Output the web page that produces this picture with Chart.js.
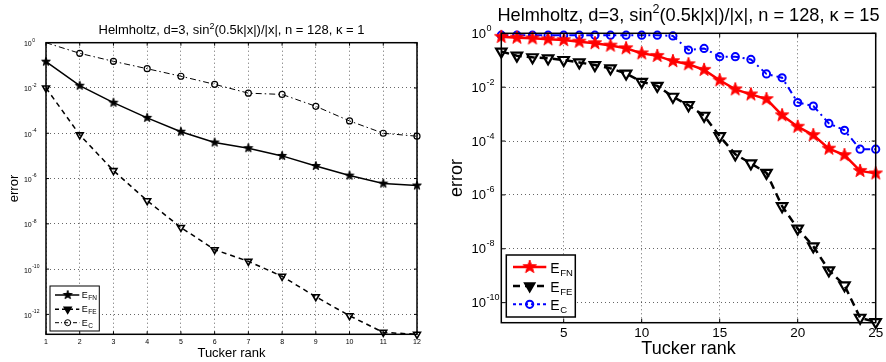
<!DOCTYPE html>
<html>
<head>
<meta charset="utf-8">
<script src="https://cdn.jsdelivr.net/npm/chart.js@4.4.0/dist/chart.umd.min.js"></script>
<style>
  html, body { margin: 0; padding: 0; background: #fff; }
  #wrap { position: relative; width: 886px; height: 362px; }
  canvas { position: absolute; top: 0; }
</style>
</head>
<body>
<div id="wrap">
  <canvas id="leftChart" width="443" height="362" style="left:0"></canvas>
  <canvas id="rightChart" width="443" height="362" style="left:443px"></canvas>
</div>
<script>
// left panel, kappa = 1
const ranks1 = [1, 2, 3, 4, 5, 6, 7, 8, 9, 10, 11, 12];
const efn1 = [1.45e-1, 1.26e-2, 2.24e-3, 4.8e-4, 1.17e-4, 3.9e-5, 2.2e-5, 1.0e-5, 3.6e-6, 1.35e-6, 6.0e-7, 4.9e-7];
const efe1 = [1.0e-2, 8.5e-5, 2.24e-6, 1.05e-7, 6.9e-9, 7.2e-10, 2.2e-10, 4.8e-11, 6.0e-12, 8.7e-13, 1.6e-13, 1.32e-13];
const ec1 = [1.0, 3.4e-1, 1.5e-1, 7.1e-2, 3.3e-2, 1.45e-2, 5.9e-3, 5.2e-3, 1.55e-3, 3.5e-4, 1.0e-4, 7.4e-5];
const xTicks1 = [1, 2, 3, 4, 5, 6, 7, 8, 9, 10, 11, 12];
const yTicks1 = [1e0, 1e-2, 1e-4, 1e-6, 1e-8, 1e-10, 1e-12];

// right panel, kappa = 15
const ranks2 = [1, 2, 3, 4, 5, 6, 7, 8, 9, 10, 11, 12, 13, 14, 15, 16, 17, 18, 19, 20, 21, 22, 23, 24, 25];
const efn2 = [0.74, 0.69, 0.65, 0.60, 0.56, 0.49, 0.43, 0.35, 0.28, 0.18, 0.145, 0.093, 0.071, 0.044, 0.018,
  8.3e-3, 5.4e-3, 3.6e-3, 9.1e-4, 3.4e-4, 1.66e-4, 5.2e-5, 3.0e-5, 7.8e-6, 6.3e-6];
const efe2 = [0.21, 0.148, 0.129, 0.117, 0.102, 0.083, 0.066, 0.050, 0.032, 0.0158, 0.0112, 4.4e-3, 2.14e-3,
  8.7e-4, 1.51e-4, 3.2e-5, 1.48e-5, 6.6e-6, 3.8e-7, 5.6e-8, 1.23e-8, 1.58e-9, 4.4e-10, 2.75e-11, 1.9e-11];
const ec2 = [0.85, 0.85, 0.85, 0.85, 0.85, 0.85, 0.85, 0.85, 0.85, 0.85, 0.85, 0.8, 0.24, 0.275, 0.135,
  0.135, 0.107, 0.031, 0.0224, 2.7e-3, 2.0e-3, 4.5e-4, 2.5e-4, 5.0e-5, 5.0e-5];
const xTicks2 = [5, 10, 15, 20, 25];
const yTicks2 = [1e0, 1e-2, 1e-4, 1e-6, 1e-8, 1e-10];

const FONT = "'Liberation Sans', Arial, Helvetica, sans-serif";
const gridColor = "rgba(0,0,0,0.6)";

// filled pentagram marker (matlab 'p')
function makeStar(R, color) {
  const c = document.createElement("canvas");
  const s = Math.ceil(2 * R + 2);
  c.width = s;
  c.height = s;
  const g = c.getContext("2d");
  g.beginPath();
  for (let k = 0; k < 10; k++) {
    const a = -Math.PI / 2 + (k * Math.PI) / 5;
    const r = k % 2 === 0 ? R : R * 0.4;
    g.lineTo(s / 2 + r * Math.cos(a), s / 2 + r * Math.sin(a));
  }
  g.closePath();
  g.fillStyle = color;
  g.fill();
  g.strokeStyle = color;
  g.lineWidth = 1;
  g.stroke();
  return c;
}

function toPoints(xs, ys) {
  return xs.map((x, i) => ({ x: x, y: ys[i] }));
}

// box, inward ticks, superscript y labels, title, legend
function makeDecor(cfg) {
  return {
    id: "decor",
    afterDraw(chart) {
      const { ctx, chartArea: a, scales } = chart;
      ctx.save();
      ctx.setLineDash([]);
      ctx.strokeStyle = "#000";
      ctx.lineWidth = 1;
      ctx.beginPath();
      scales.x.ticks.forEach((tk) => {
        const px = scales.x.getPixelForValue(tk.value);
        ctx.moveTo(px, a.bottom);
        ctx.lineTo(px, a.bottom - cfg.tickLen);
        ctx.moveTo(px, a.top);
        ctx.lineTo(px, a.top + cfg.tickLen);
      });
      scales.y.ticks.forEach((tk) => {
        const py = scales.y.getPixelForValue(tk.value);
        ctx.moveTo(a.left, py);
        ctx.lineTo(a.left + cfg.tickLen, py);
        ctx.moveTo(a.right, py);
        ctx.lineTo(a.right - cfg.tickLen, py);
      });
      ctx.stroke();
      ctx.lineWidth = cfg.boxWidth;
      ctx.strokeRect(a.left, a.top, a.right - a.left, a.bottom - a.top);

      // y tick labels: 10 with exponent
      ctx.fillStyle = "#000";
      ctx.textBaseline = "middle";
      scales.y.ticks.forEach((tk) => {
        const py = scales.y.getPixelForValue(tk.value);
        const e = Math.round(Math.log10(tk.value));
        const xb = a.left - cfg.ytick.gap;
        ctx.font = cfg.ytick.size + "px " + FONT;
        ctx.textAlign = "right";
        ctx.fillText("10", xb, py + cfg.ytick.dy);
        ctx.font = cfg.ytick.sup + "px " + FONT;
        ctx.textAlign = "left";
        ctx.fillText(String(e), xb + 0.5, py + cfg.ytick.supDy);
      });

      // title with sin^2
      const t = cfg.title;
      const f1 = t.size + "px " + FONT;
      const f2 = t.sup + "px " + FONT;
      ctx.textBaseline = "alphabetic";
      ctx.textAlign = "left";
      ctx.font = f1;
      const w1 = ctx.measureText(t.pre).width;
      const w3 = ctx.measureText(t.post).width;
      ctx.font = f2;
      const w2 = ctx.measureText("2").width;
      let x = (a.left + a.right) / 2 - (w1 + w2 + w3) / 2;
      ctx.font = f1;
      ctx.fillText(t.pre, x, t.y);
      x += w1;
      ctx.font = f2;
      ctx.fillText("2", x, t.y - t.raise);
      x += w2;
      ctx.font = f1;
      ctx.fillText(t.post, x, t.y);

      // legend
      const L = cfg.legend;
      ctx.fillStyle = "#fff";
      ctx.fillRect(L.x, L.y, L.w, L.h);
      ctx.strokeStyle = "#000";
      ctx.lineWidth = L.border;
      ctx.strokeRect(L.x, L.y, L.w, L.h);
      L.items.forEach((s, i) => {
        const y = L.rows[i];
        ctx.strokeStyle = s.color;
        ctx.lineWidth = s.width;
        ctx.setLineDash(s.dash);
        ctx.beginPath();
        ctx.moveTo(L.x0, y);
        ctx.lineTo(L.x1, y);
        ctx.stroke();
        ctx.setLineDash([]);
        ctx.fillStyle = s.fill;
        ctx.strokeStyle = s.color;
        ctx.lineWidth = s.pbw;
        Chart.helpers.drawPoint(ctx, { pointStyle: s.style, rotation: s.rotation || 0, radius: s.radius, borderWidth: s.pbw }, L.xm, y);
        ctx.fillStyle = "#000";
        ctx.textAlign = "left";
        ctx.textBaseline = "alphabetic";
        ctx.font = L.size + "px " + FONT;
        ctx.fillText("E", L.xt, y + L.dy);
        const we = ctx.measureText("E").width;
        ctx.font = L.sub + "px " + FONT;
        ctx.fillText(s.sub, L.xt + we + 0.5, y + L.subDy);
      });
      ctx.restore();
    },
  };
}

function axes(o) {
  return {
    x: {
      type: "linear",
      min: o.xmin,
      max: o.xmax,
      afterBuildTicks: (ax) => { ax.ticks = o.xTicks.map((v) => ({ value: v })); },
      afterFit: (ax) => {
        ax.height = o.xh;
        ax.paddingLeft = 0;
        ax.paddingRight = 0;
      },
      grid: { color: gridColor, lineWidth: 1, drawTicks: false },
      border: { display: false, dash: [1, 3] },
      ticks: { color: "#000", font: { family: FONT, size: o.tickSize }, padding: o.tickPad, maxRotation: 0, autoSkip: false },
      title: { display: true, text: "Tucker rank", color: "#000", font: { family: FONT, size: o.labelSize }, padding: { top: 0, bottom: o.xTitlePad } },
    },
    y: {
      type: "logarithmic",
      min: o.ymin,
      max: o.ymax,
      afterBuildTicks: (ax) => { ax.ticks = o.yTicks.map((v) => ({ value: v })); },
      afterFit: (ax) => {
        ax.width = o.yw;
        ax.paddingTop = 0;
        ax.paddingBottom = 0;
      },
      grid: { color: gridColor, lineWidth: 1, drawTicks: false },
      border: { display: false, dash: [1, 3] },
      ticks: { display: false },
      title: { display: true, text: "error", color: "#000", font: { family: FONT, size: o.labelSize }, padding: { top: o.yTitlePad, bottom: 0 } },
    },
  };
}

// ---- left chart
const star1 = makeStar(4.6, "#000");
new Chart(document.getElementById("leftChart"), {
  type: "line",
  data: {
    datasets: [
      {
        label: "E_FN",
        data: toPoints(ranks1, efn1),
        borderColor: "#000",
        borderWidth: 1.5,
        pointStyle: star1,
        pointRadius: 4,
        clip: false,
      },
      {
        label: "E_FE",
        data: toPoints(ranks1, efe1),
        borderColor: "#000",
        borderWidth: 1.5,
        borderDash: [5, 4],
        pointStyle: "triangle",
        rotation: 180,
        pointRadius: 4,
        pointBorderWidth: 1.6,
        pointBackgroundColor: "rgba(0,0,0,0)",
        pointBorderColor: "#000",
        clip: false,
      },
      {
        label: "E_C",
        data: toPoints(ranks1, ec1),
        borderColor: "#000",
        borderWidth: 1,
        borderDash: [6, 3, 1.5, 3],
        pointStyle: "circle",
        pointRadius: (c) => (c.dataIndex === 0 ? 0 : 3),
        pointBorderWidth: 1.2,
        pointBackgroundColor: "rgba(0,0,0,0)",
        pointBorderColor: "#000",
        clip: false,
      },
    ],
  },
  options: {
    responsive: false,
    animation: false,
    devicePixelRatio: 1,
    events: [],
    layout: { padding: { left: 0, right: 26, top: 42.7, bottom: 0 } },
    plugins: { legend: { display: false }, tooltip: { enabled: false } },
    scales: axes({
      xmin: 1, xmax: 12, xTicks: xTicks1, ymin: 1.32e-13, ymax: 1, yTicks: yTicks1,
      xh: 27.7, yw: 46, tickSize: 7, tickPad: 4, labelSize: 13, xTitlePad: 0.5, yTitlePad: 6.2,
    }),
  },
  plugins: [
    makeDecor({
      tickLen: 3,
      boxWidth: 1.5,
      ytick: { size: 7, sup: 5, gap: 14.3, dy: 1.5, supDy: -2.5 },
      title: { pre: "Helmholtz, d=3, sin", post: "(0.5k|x|)/|x|, n = 128, \u03ba = 1", size: 13, sup: 9, y: 34.3, raise: 5 },
      legend: {
        x: 50, y: 286, w: 49.3, h: 45, border: 1, rows: [295, 309.3, 322.7],
        x0: 55, x1: 79.3, xm: 67.7, xt: 81.7, size: 9, sub: 6.5, dy: 3, subDy: 5,
        items: [
          { sub: "FN", color: "#000", width: 1.5, dash: [], style: star1, radius: 4, pbw: 1, fill: "#000" },
          { sub: "FE", color: "#000", width: 1.5, dash: [4, 3], style: "triangle", rotation: 180, radius: 4, pbw: 1.5, fill: "#000" },
          { sub: "C", color: "#000", width: 1, dash: [4, 2, 1, 2], style: "circle", radius: 3, pbw: 1, fill: "rgba(0,0,0,0)" },
        ],
      },
    }),
  ],
});

// ---- right chart
const star2 = makeStar(7, "#ff0000");
new Chart(document.getElementById("rightChart"), {
  type: "line",
  data: {
    datasets: [
      {
        label: "E_FN",
        data: toPoints(ranks2, efn2),
        borderColor: "#ff0000",
        borderWidth: 2.5,
        pointStyle: star2,
        pointRadius: 6,
        clip: false,
      },
      {
        label: "E_FE",
        data: toPoints(ranks2, efe2),
        borderColor: "#000",
        borderWidth: 2.5,
        borderDash: [8, 5],
        pointStyle: "triangle",
        rotation: 180,
        pointRadius: 6,
        pointBorderWidth: 2.2,
        pointBackgroundColor: "rgba(0,0,0,0)",
        pointBorderColor: "#000",
        clip: false,
      },
      {
        label: "E_C",
        data: toPoints(ranks2, ec2),
        borderColor: "#0000ff",
        borderWidth: 2,
        borderDash: [7, 4, 2, 4],
        pointStyle: "circle",
        pointRadius: 3.6,
        pointBorderWidth: 2,
        pointBackgroundColor: "rgba(0,0,0,0)",
        pointBorderColor: "#0000ff",
        clip: false,
      },
    ],
  },
  options: {
    responsive: false,
    animation: false,
    devicePixelRatio: 1,
    events: [],
    layout: { padding: { left: 0, right: 10.3, top: 33.3, bottom: 0 } },
    plugins: { legend: { display: false }, tooltip: { enabled: false } },
    scales: axes({
      xmin: 1, xmax: 25, xTicks: xTicks2, ymin: 1.8e-11, ymax: 1, yTicks: yTicks2,
      xh: 39.3, yw: 58.3, tickSize: 13.5, tickPad: 2, labelSize: 18, xTitlePad: 1.9, yTitlePad: 3.2,
    }),
  },
  plugins: [
    makeDecor({
      tickLen: 4,
      boxWidth: 1.5,
      ytick: { size: 13, sup: 9, gap: 15.3, dy: 1, supDy: -5 },
      title: { pre: "Helmholtz, d=3, sin", post: "(0.5k|x|)/|x|, n = 128, \u03ba = 15", size: 18.2, sup: 12.5, y: 20.7, raise: 7.5 },
      legend: {
        x: 63.3, y: 255, w: 69, h: 62, border: 1.5, rows: [267, 286, 304.3],
        x0: 70, x1: 103.3, xm: 86.7, xt: 107.3, size: 14, sub: 9.5, dy: 6, subDy: 9,
        items: [
          { sub: "FN", color: "#ff0000", width: 2.5, dash: [], style: star2, radius: 6, pbw: 1, fill: "#ff0000" },
          { sub: "FE", color: "#000", width: 2.5, dash: [7, 5], style: "triangle", rotation: 180, radius: 5.5, pbw: 2, fill: "#000" },
          { sub: "C", color: "#0000ff", width: 2, dash: [3, 3], style: "circle", radius: 3.6, pbw: 2, fill: "rgba(0,0,0,0)" },
        ],
      },
    }),
  ],
});
</script>
</body>
</html>
